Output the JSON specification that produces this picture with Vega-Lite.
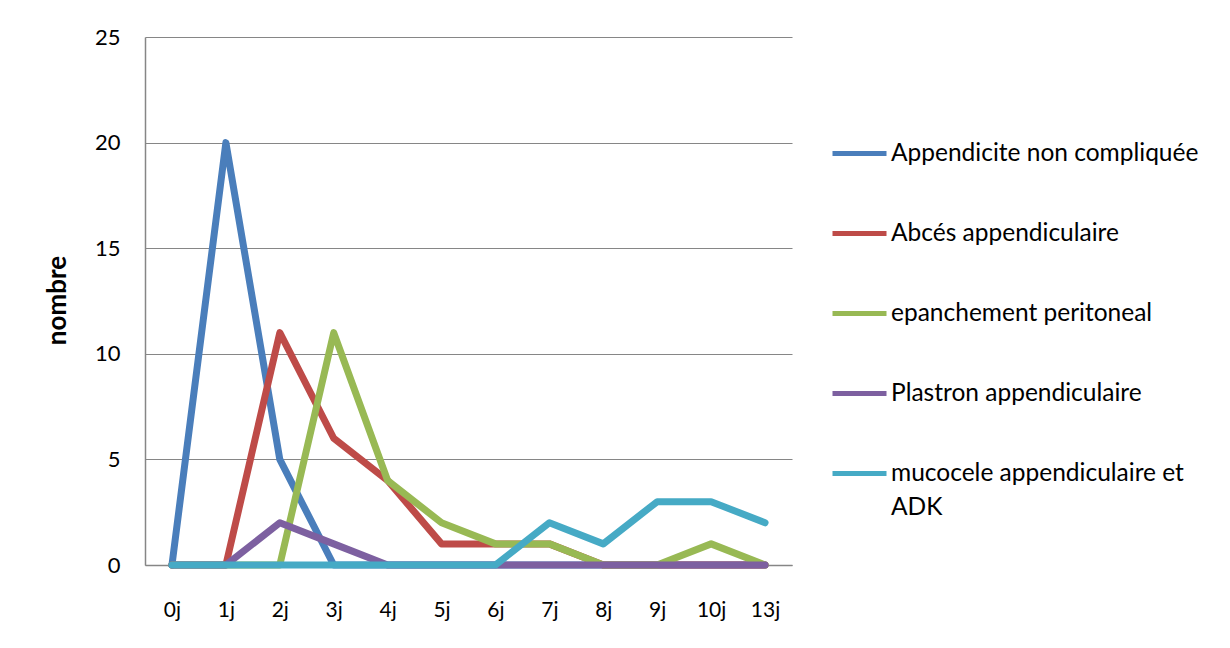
{
  "$schema": "https://vega.github.io/schema/vega-lite/v6.json",
  "width": 647,
  "height": 528,
  "autosize": {"type": "none"},
  "padding": {"left": 145, "top": 37, "right": 438, "bottom": 83},
  "background": "white",
  "config": {
    "font": "Lato",
    "view": {"stroke": null},
    "axis": {"labelFont": "Lato", "titleFont": "Lato", "labelColor": "#000000", "titleColor": "#000000"},
    "style": {"guide-label": {"lineHeight": 34}}
  },
  "data": {
    "values": [
      {"jour": "0j", "serie": "Appendicite non compliquée", "n": 0},
      {"jour": "1j", "serie": "Appendicite non compliquée", "n": 20},
      {"jour": "2j", "serie": "Appendicite non compliquée", "n": 5},
      {"jour": "3j", "serie": "Appendicite non compliquée", "n": 0},
      {"jour": "4j", "serie": "Appendicite non compliquée", "n": 0},
      {"jour": "5j", "serie": "Appendicite non compliquée", "n": 0},
      {"jour": "6j", "serie": "Appendicite non compliquée", "n": 0},
      {"jour": "7j", "serie": "Appendicite non compliquée", "n": 0},
      {"jour": "8j", "serie": "Appendicite non compliquée", "n": 0},
      {"jour": "9j", "serie": "Appendicite non compliquée", "n": 0},
      {"jour": "10j", "serie": "Appendicite non compliquée", "n": 0},
      {"jour": "13j", "serie": "Appendicite non compliquée", "n": 0},
      {"jour": "0j", "serie": "Abcés appendiculaire", "n": 0},
      {"jour": "1j", "serie": "Abcés appendiculaire", "n": 0},
      {"jour": "2j", "serie": "Abcés appendiculaire", "n": 11},
      {"jour": "3j", "serie": "Abcés appendiculaire", "n": 6},
      {"jour": "4j", "serie": "Abcés appendiculaire", "n": 4},
      {"jour": "5j", "serie": "Abcés appendiculaire", "n": 1},
      {"jour": "6j", "serie": "Abcés appendiculaire", "n": 1},
      {"jour": "7j", "serie": "Abcés appendiculaire", "n": 1},
      {"jour": "8j", "serie": "Abcés appendiculaire", "n": 0},
      {"jour": "9j", "serie": "Abcés appendiculaire", "n": 0},
      {"jour": "10j", "serie": "Abcés appendiculaire", "n": 0},
      {"jour": "13j", "serie": "Abcés appendiculaire", "n": 0},
      {"jour": "0j", "serie": "epanchement peritoneal", "n": 0},
      {"jour": "1j", "serie": "epanchement peritoneal", "n": 0},
      {"jour": "2j", "serie": "epanchement peritoneal", "n": 0},
      {"jour": "3j", "serie": "epanchement peritoneal", "n": 11},
      {"jour": "4j", "serie": "epanchement peritoneal", "n": 4},
      {"jour": "5j", "serie": "epanchement peritoneal", "n": 2},
      {"jour": "6j", "serie": "epanchement peritoneal", "n": 1},
      {"jour": "7j", "serie": "epanchement peritoneal", "n": 1},
      {"jour": "8j", "serie": "epanchement peritoneal", "n": 0},
      {"jour": "9j", "serie": "epanchement peritoneal", "n": 0},
      {"jour": "10j", "serie": "epanchement peritoneal", "n": 1},
      {"jour": "13j", "serie": "epanchement peritoneal", "n": 0},
      {"jour": "0j", "serie": "Plastron appendiculaire", "n": 0},
      {"jour": "1j", "serie": "Plastron appendiculaire", "n": 0},
      {"jour": "2j", "serie": "Plastron appendiculaire", "n": 2},
      {"jour": "3j", "serie": "Plastron appendiculaire", "n": 1},
      {"jour": "4j", "serie": "Plastron appendiculaire", "n": 0},
      {"jour": "5j", "serie": "Plastron appendiculaire", "n": 0},
      {"jour": "6j", "serie": "Plastron appendiculaire", "n": 0},
      {"jour": "7j", "serie": "Plastron appendiculaire", "n": 0},
      {"jour": "8j", "serie": "Plastron appendiculaire", "n": 0},
      {"jour": "9j", "serie": "Plastron appendiculaire", "n": 0},
      {"jour": "10j", "serie": "Plastron appendiculaire", "n": 0},
      {"jour": "13j", "serie": "Plastron appendiculaire", "n": 0},
      {"jour": "0j", "serie": "mucocele appendiculaire et ADK", "n": 0},
      {"jour": "1j", "serie": "mucocele appendiculaire et ADK", "n": 0},
      {"jour": "2j", "serie": "mucocele appendiculaire et ADK", "n": 0},
      {"jour": "3j", "serie": "mucocele appendiculaire et ADK", "n": 0},
      {"jour": "4j", "serie": "mucocele appendiculaire et ADK", "n": 0},
      {"jour": "5j", "serie": "mucocele appendiculaire et ADK", "n": 0},
      {"jour": "6j", "serie": "mucocele appendiculaire et ADK", "n": 0},
      {"jour": "7j", "serie": "mucocele appendiculaire et ADK", "n": 2},
      {"jour": "8j", "serie": "mucocele appendiculaire et ADK", "n": 1},
      {"jour": "9j", "serie": "mucocele appendiculaire et ADK", "n": 3},
      {"jour": "10j", "serie": "mucocele appendiculaire et ADK", "n": 3},
      {"jour": "13j", "serie": "mucocele appendiculaire et ADK", "n": 2}
    ]
  },
  "encoding": {
    "x": {
      "field": "jour",
      "type": "nominal",
      "sort": ["0j", "1j", "2j", "3j", "4j", "5j", "6j", "7j", "8j", "9j", "10j", "13j"],
      "scale": {"type": "point", "padding": 0.5},
      "axis": {
        "title": null,
        "labelAngle": 0,
        "labelFontSize": 21,
        "labelPadding": 34,
        "ticks": false,
        "domainColor": "#868686",
        "domainWidth": 1.5,
        "grid": false
      }
    },
    "y": {
      "field": "n",
      "type": "quantitative",
      "scale": {"domain": [0, 25], "nice": false},
      "axis": {
        "title": "nombre",
        "titleFontSize": 26,
        "titleFontWeight": "bold",
        "titleAngle": -90,
        "titleX": -88,
        "titleY": 263,
        "titleAlign": "center",
        "titleBaseline": "middle",
        "values": [0, 5, 10, 15, 20, 25],
        "labelFontSize": 22,
        "labelPadding": 25,
        "ticks": false,
        "domainColor": "#868686",
        "domainWidth": 1.5,
        "grid": true,
        "gridColor": "#868686",
        "gridWidth": 1.2
      }
    },
    "color": {
      "field": "serie",
      "type": "nominal",
      "scale": {
        "domain": ["Appendicite non compliquée", "Abcés appendiculaire", "epanchement peritoneal", "Plastron appendiculaire", "mucocele appendiculaire et ADK"],
        "range": ["#4A7EBB", "#BE4B48", "#98B954", "#7D60A0", "#46AAC5"]
      },
      "legend": {
        "title": null,
        "orient": "none",
        "legendX": 685,
        "legendY": 87,
        "symbolType": "stroke",
        "symbolSize": 2916,
        "symbolStrokeWidth": 5,
        "labelFontSize": 24.5,
        "labelFont": "Lato",
        "labelColor": "#000000",
        "labelOffset": 2,
        "labelLimit": 400,
        "rowPadding": 39,
        "labelExpr": "datum.label == 'mucocele appendiculaire et ADK' ? ['mucocele appendiculaire et', 'ADK'] : datum.label"
      }
    }
  },
  "layer": [
    {"transform": [{"filter": "datum.serie == 'Appendicite non compliquée'"}], "mark": {"type": "line", "strokeWidth": 7, "strokeCap": "round", "strokeJoin": "round"}},
    {"transform": [{"filter": "datum.serie == 'Abcés appendiculaire'"}], "mark": {"type": "line", "strokeWidth": 7, "strokeCap": "round", "strokeJoin": "round"}},
    {"transform": [{"filter": "datum.serie == 'epanchement peritoneal'"}], "mark": {"type": "line", "strokeWidth": 7, "strokeCap": "round", "strokeJoin": "round"}},
    {"transform": [{"filter": "datum.serie == 'Plastron appendiculaire'"}], "mark": {"type": "line", "strokeWidth": 7, "strokeCap": "round", "strokeJoin": "round"}},
    {"transform": [{"filter": "datum.serie == 'mucocele appendiculaire et ADK'"}], "mark": {"type": "line", "strokeWidth": 7, "strokeCap": "round", "strokeJoin": "round"}}
  ]
}
